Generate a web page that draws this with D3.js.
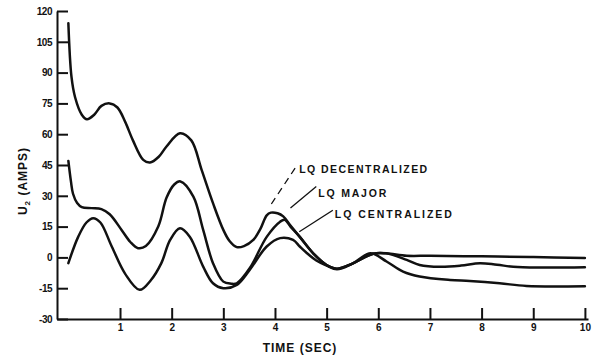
<!DOCTYPE html>
<html>
<head>
<meta charset="utf-8">
<script src="https://cdn.jsdelivr.net/npm/d3@7"></script>
<style>
  body { margin: 0; background: #fff; }
  svg { display: block; }
  text { font-family: "Liberation Sans", Arial, sans-serif; font-weight: bold; fill: #111; }
</style>
</head>
<body>
<div id="chart"></div>
<script>
// tick labels
var xTicks = [1, 2, 3, 4, 5, 6, 7, 8, 9, 10]
var yTicks = [120, 105, 90, 75, 60, 45, 30, 15, 0, -15, -30]

// LQ decentralized (starts at 114)
var tDec = [0, 0.06, 0.13, 0.26, 0.36, 0.5, 0.64, 0.8, 0.95, 1.1, 1.25, 1.45, 1.58, 1.75, 1.9, 2.16, 2.38, 2.58, 2.8, 3.0, 3.12, 3.26, 3.4, 3.58, 3.72, 3.84, 3.92, 4.05, 4.16, 4.3, 4.48, 4.74, 5.0, 5.2, 5.5, 5.9, 6.15, 6.55, 7.0, 8.0, 9.0, 10]
var vDec = [114, 88, 78, 69.5, 67.3, 69.5, 73.8, 75, 73, 66, 57, 47.5, 46.2, 49, 54, 60.5, 57, 42.6, 26.4, 13.4, 8, 5, 5.5, 8.5, 14, 20.5, 21.8, 21.5, 20, 15.5, 10, 2, -3.7, -5.5, -3, 1.8, 2, 0.8, 0.8, 0.5, 0.2, -0.3]

// LQ major (starts at 47)
var tMaj = [0, 0.05, 0.09, 0.17, 0.26, 0.45, 0.64, 0.8, 1.03, 1.2, 1.35, 1.5, 1.74, 1.9, 2.05, 2.17, 2.42, 2.61, 2.8, 3.0, 3.15, 3.26, 3.51, 3.84, 4.1, 4.19, 4.3, 4.48, 4.74, 5.0, 5.2, 5.5, 5.9, 6.15, 6.55, 6.8, 7.2, 7.6, 7.97, 8.3, 8.7, 10]
var vMaj = [47, 37, 31, 26.5, 24.5, 24, 23.5, 21, 13.4, 7.5, 4.5, 5.5, 15, 29, 35.5, 37, 29.6, 13.4, -2.8, -11.8, -12.8, -12.6, -5.3, 10, 17.4, 18.3, 15, 10, 2, -3.7, -5.5, -3, 1.8, 2, -1.2, -3.7, -4.6, -4, -2.8, -3.6, -4.7, -4.8]

// LQ centralized (starts near 0)
var tCen = [0, 0.19, 0.35, 0.48, 0.62, 0.84, 1.1, 1.38, 1.6, 1.8, 1.97, 2.16, 2.35, 2.61, 2.8, 3.0, 3.26, 3.51, 3.84, 4.1, 4.35, 4.48, 4.6, 4.8, 5.0, 5.2, 5.5, 5.85, 6.16, 6.48, 6.8, 7.39, 7.77, 8.35, 8.87, 10]
var vCen = [-2.8, 10, 17, 19.1, 17, 5.3, -8, -15.8, -11, -2.8, 8.5, 14.2, 10.1, -4.5, -12.6, -15, -13.4, -6.1, 5.3, 9.4, 8.5, 5.3, 2.5, -1.5, -4, -5.8, -3, 2, -2, -6.9, -9.3, -11, -11.5, -12.6, -13.9, -14]

var series = [
  {name: "LQ DECENTRALIZED", t: tDec, v: vDec},
  {name: "LQ MAJOR", t: tMaj, v: vMaj},
  {name: "LQ CENTRALIZED", t: tCen, v: vCen}
]

var width = 602, height = 360

var svg = d3.select("#chart")
  .append("svg")
    .attr("width", width)
    .attr("height", height)

// scales: y axis line sits a bit left of t = 0
var x = d3.scaleLinear()
    .domain([-0.22, 10.06])
    .range([57, 588])
var y = d3.scaleLinear()
    .domain([-30, 120])
    .range([319, 11])

// X axis
var xAxis = svg.append("g")
    .attr("transform", "translate(0," + y(-30) + ")")
    .call(d3.axisBottom(x).tickValues(xTicks).tickSizeInner(-11).tickSizeOuter(0).tickPadding(5).tickFormat(function(d) { return d }))
xAxis.select(".domain").attr("stroke", "#111").attr("stroke-width", 2)
xAxis.selectAll(".tick line").attr("stroke", "#111").attr("stroke-width", 2)
xAxis.selectAll("text")
    .attr("font-size", "10px")
    .attr("font-family", "Liberation Sans, Arial, sans-serif")
    .attr("font-weight", "bold")
    .attr("fill", "#111")

// Y axis
var yAxis = svg.append("g")
    .attr("transform", "translate(" + x(-0.22) + ",0)")
    .call(d3.axisLeft(y).tickValues(yTicks).tickSizeInner(-11).tickSizeOuter(0).tickPadding(5).tickFormat(function(d) { return d }))
yAxis.select(".domain").attr("stroke", "#111").attr("stroke-width", 2)
yAxis.selectAll(".tick line").attr("stroke", "#111").attr("stroke-width", 2)
yAxis.selectAll("text")
    .attr("font-size", "10px")
    .attr("font-family", "Liberation Sans, Arial, sans-serif")
    .attr("font-weight", "bold")
    .attr("fill", "#111")
    .attr("letter-spacing", "-0.5px")

// axis titles
svg.append("text")
    .attr("x", 300)
    .attr("y", 352)
    .attr("text-anchor", "middle")
    .attr("font-size", "12px")
    .attr("letter-spacing", "1px")
    .text("TIME (SEC)")

var yTitle = svg.append("text")
    .attr("transform", "translate(27,181) rotate(-90)")
    .attr("text-anchor", "middle")
    .attr("font-size", "12px")
    .attr("letter-spacing", "1px")
yTitle.append("tspan").text("U")
yTitle.append("tspan").attr("font-size", "8px").attr("dy", 3).text("2")
yTitle.append("tspan").attr("dy", -3).text(" (AMPS)")

// curves
var line = d3.line()
    .x(function(d) { return x(d[0]) })
    .y(function(d) { return y(d[1]) })
    .curve(d3.curveCatmullRom.alpha(0.5))

svg.append("g")
  .selectAll("path")
  .data(series)
  .enter()
  .append("path")
    .attr("d", function(s) { return line(s.t.map(function(t, i) { return [t, s.v[i]] })) })
    .attr("fill", "none")
    .attr("stroke", "#111")
    .attr("stroke-width", 2.5)
    .attr("stroke-linejoin", "round")
    .attr("stroke-linecap", "round")

// annotations with leader lines (data coords)
var notes = [
  {name: "LQ DECENTRALIZED", from: [3.93, 26], to: [4.43, 45], tx: 4.43, ty: 43, len: 128, dash: "7,5"},
  {name: "LQ MAJOR", from: [4.3, 24], to: [4.8, 34.5], tx: 4.8, ty: 31.5, len: 68, dash: null},
  {name: "LQ CENTRALIZED", from: [4.47, 12.5], to: [5.12, 23], tx: 5.12, ty: 21, len: 117, dash: null}
]

svg.append("g")
  .selectAll("line")
  .data(notes)
  .enter()
  .append("line")
    .attr("x1", function(d) { return x(d.from[0]) })
    .attr("y1", function(d) { return y(d.from[1]) })
    .attr("x2", function(d) { return x(d.to[0]) })
    .attr("y2", function(d) { return y(d.to[1]) })
    .attr("stroke", "#111")
    .attr("stroke-width", 1.3)
    .attr("stroke-dasharray", function(d) { return d.dash })

svg.append("g")
  .selectAll("text")
  .data(notes)
  .enter()
  .append("text")
    .attr("x", function(d) { return x(d.tx) + 2 })
    .attr("y", function(d) { return y(d.ty) + 4 })
    .attr("font-size", "10.5px")
    .attr("textLength", function(d) { return d.len })
    .attr("lengthAdjust", "spacing")
    .text(function(d) { return d.name })
</script>
</body>
</html>
